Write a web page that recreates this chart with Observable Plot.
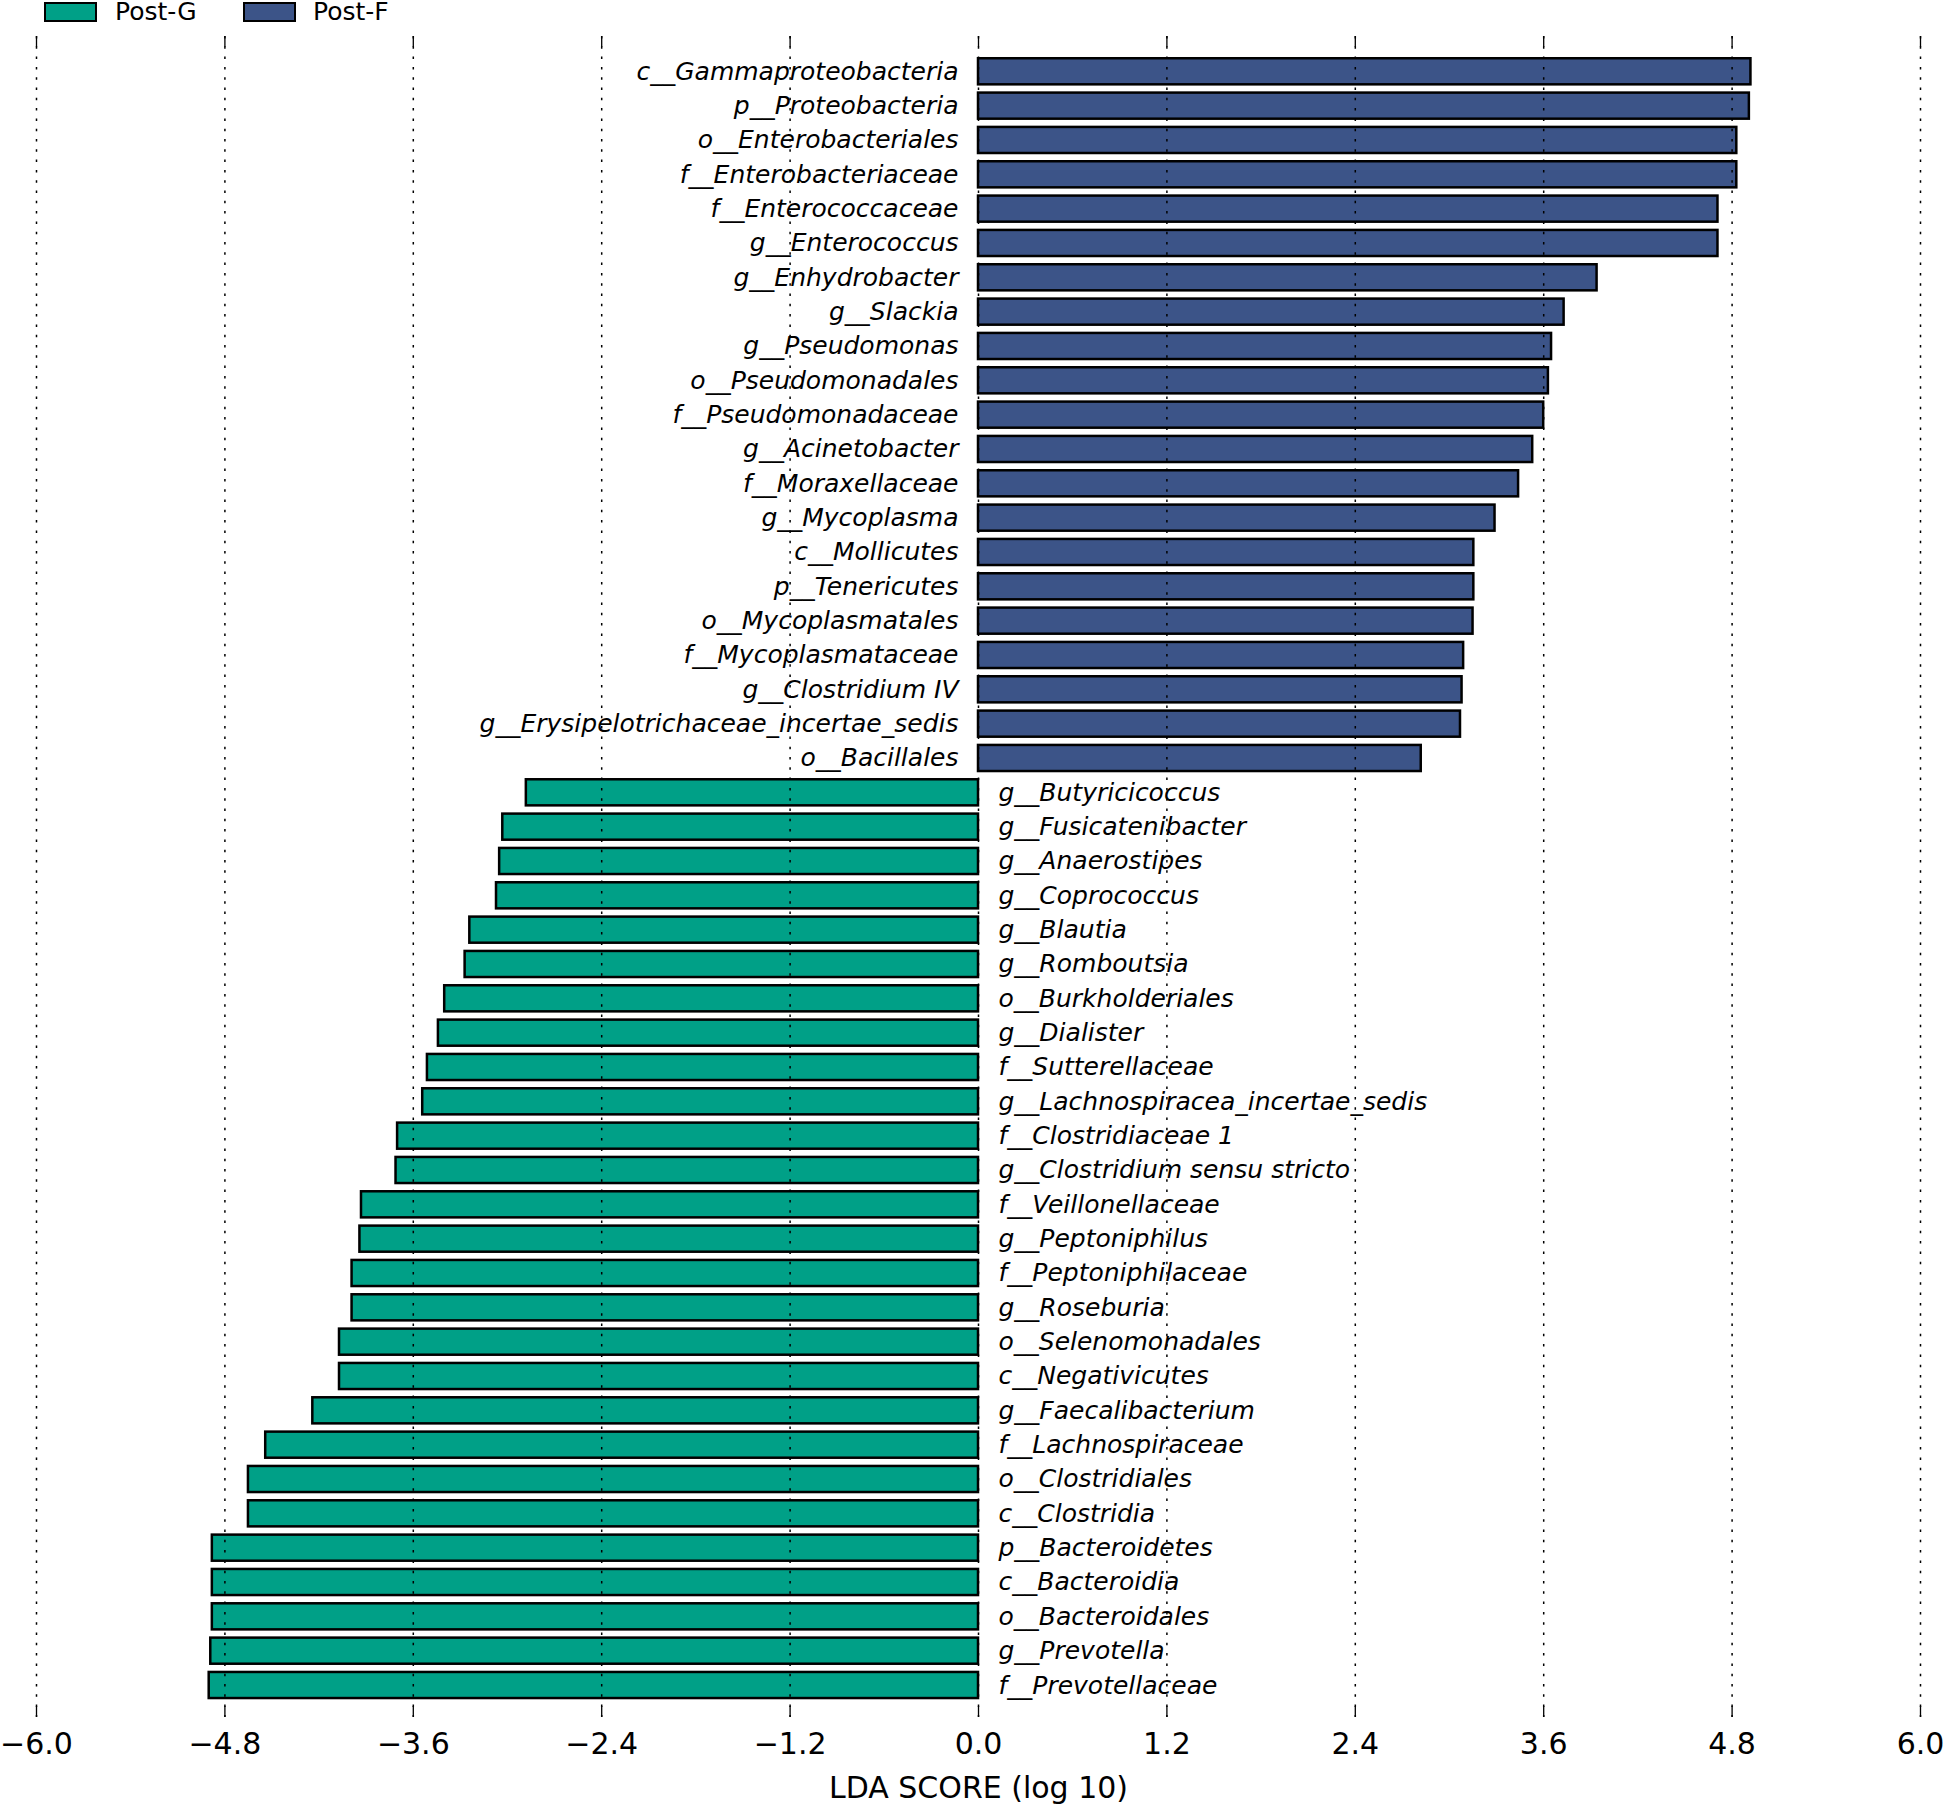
<!DOCTYPE html>
<html><head><meta charset="utf-8">
<script src="https://cdn.jsdelivr.net/npm/d3@7"></script>
<script src="https://cdn.jsdelivr.net/npm/@observablehq/plot@0.6"></script>
<style>
body{margin:0;background:#fff;}
#legend{position:relative;width:1944px;height:30px;font-family:"DejaVu Sans";font-size:25px;color:#000;}
.sw{position:absolute;top:2px;width:49px;height:16px;border:2px solid #000;}
.lb{position:absolute;top:-3px;line-height:30px;white-space:nowrap;}
</style></head><body>
<div id="legend"></div>
<div id="chart"></div>
<script>
// ---- data ----
const postFNames = [
  "c__Gammaproteobacteria","p__Proteobacteria","o__Enterobacteriales","f__Enterobacteriaceae",
  "f__Enterococcaceae","g__Enterococcus","g__Enhydrobacter","g__Slackia","g__Pseudomonas",
  "o__Pseudomonadales","f__Pseudomonadaceae","g__Acinetobacter","f__Moraxellaceae","g__Mycoplasma",
  "c__Mollicutes","p__Tenericutes","o__Mycoplasmatales","f__Mycoplasmataceae","g__Clostridium IV",
  "g__Erysipelotrichaceae_incertae_sedis","o__Bacillales"
];
const postFValues = [
  4.92, 4.91, 4.83, 4.83, 4.71, 4.71, 3.94, 3.73, 3.65, 3.63, 3.60, 3.53, 3.44, 3.29,
  3.155, 3.155, 3.15, 3.09, 3.08, 3.07, 2.82
];
const postGNames = [
  "g__Butyricicoccus","g__Fusicatenibacter","g__Anaerostipes","g__Coprococcus","g__Blautia",
  "g__Romboutsia","o__Burkholderiales","g__Dialister","f__Sutterellaceae","g__Lachnospiracea_incertae_sedis",
  "f__Clostridiaceae 1","g__Clostridium sensu stricto","f__Veillonellaceae","g__Peptoniphilus",
  "f__Peptoniphilaceae","g__Roseburia","o__Selenomonadales","c__Negativicutes","g__Faecalibacterium",
  "f__Lachnospiraceae","o__Clostridiales","c__Clostridia","p__Bacteroidetes","c__Bacteroidia",
  "o__Bacteroidales","g__Prevotella","f__Prevotellaceae"
];
const postGValues = [
  -2.88, -3.03, -3.05, -3.07, -3.24, -3.27, -3.40, -3.44, -3.51, -3.54,
  -3.70, -3.71, -3.93, -3.94, -3.99, -3.99, -4.07, -4.07, -4.24,
  -4.54, -4.65, -4.65, -4.88, -4.88, -4.88, -4.89, -4.90
];
const groups = ["Post-G", "Post-F"];
const groupColors = ["#00A087", "#3C5488"];
const xTicks = [-6, -4.8, -3.6, -2.4, -1.2, 0, 1.2, 2.4, 3.6, 4.8, 6];
const axisLabel = "LDA SCORE (log 10)";

// ---- legend ----
const legend = document.getElementById("legend");
const swLeft = [44, 243], lbLeft = [115, 313];
groups.forEach((g, i) => {
  const s = document.createElement("div");
  s.className = "sw"; s.style.left = swLeft[i] + "px"; s.style.background = groupColors[i];
  legend.appendChild(s);
  const t = document.createElement("div");
  t.className = "lb"; t.style.left = lbLeft[i] + "px"; t.textContent = g;
  legend.appendChild(t);
});

// ---- chart ----
const data = [
  ...postFNames.map((n, i) => ({name: n, value: postFValues[i], group: "Post-F"})),
  ...postGNames.map((n, i) => ({name: n, value: postGValues[i], group: "Post-G"}))
];
const W = 1944, H = 1774, mT = 6, mB = 87, mL = 36, mR = 24;
const plotH = H - mT - mB;
const fmt = d => (d < 0 ? "\u2212" : "") + Math.abs(d).toFixed(1);

const chart = Plot.plot({
  width: W, height: H,
  marginTop: mT, marginBottom: mB, marginLeft: mL, marginRight: mR,
  style: {fontFamily: "DejaVu Sans", background: "white", color: "black", overflow: "visible"},
  x: {domain: [-6, 6]},
  y: {domain: data.map(d => d.name), paddingInner: 0.24, paddingOuter: 0.6, align: 0.54, round: false, axis: null},
  color: {domain: groups, range: groupColors},
  marks: [
    Plot.barX(data, {x: "value", y: "name", fill: "group", stroke: "black", strokeWidth: 2.5}),
    Plot.ruleX(xTicks, {stroke: "black", strokeWidth: 1.5, strokeDasharray: "2.5,7.8"}),
    Plot.ruleX(xTicks, {stroke: "black", strokeWidth: 1.3, insetBottom: plotH - 11}),
    Plot.ruleX(xTicks, {stroke: "black", strokeWidth: 1.3, insetTop: plotH - 11}),
    Plot.text(data.filter(d => d.group === "Post-F"), {x: () => 0, y: "name", text: "name", textAnchor: "end", dx: -20, fontSize: 25, fontStyle: "italic", fill: "black"}),
    Plot.text(data.filter(d => d.group === "Post-G"), {x: () => 0, y: "name", text: "name", textAnchor: "start", dx: 20, fontSize: 25, fontStyle: "italic", fill: "black"}),
    Plot.axisX(xTicks, {anchor: "bottom", tickSize: 0, tickPadding: 15, fontSize: 30, tickFormat: fmt,
      label: axisLabel, labelAnchor: "center", labelArrow: "none", labelOffset: 80})
  ]
});
document.getElementById("chart").appendChild(chart);
</script>
</body></html>
